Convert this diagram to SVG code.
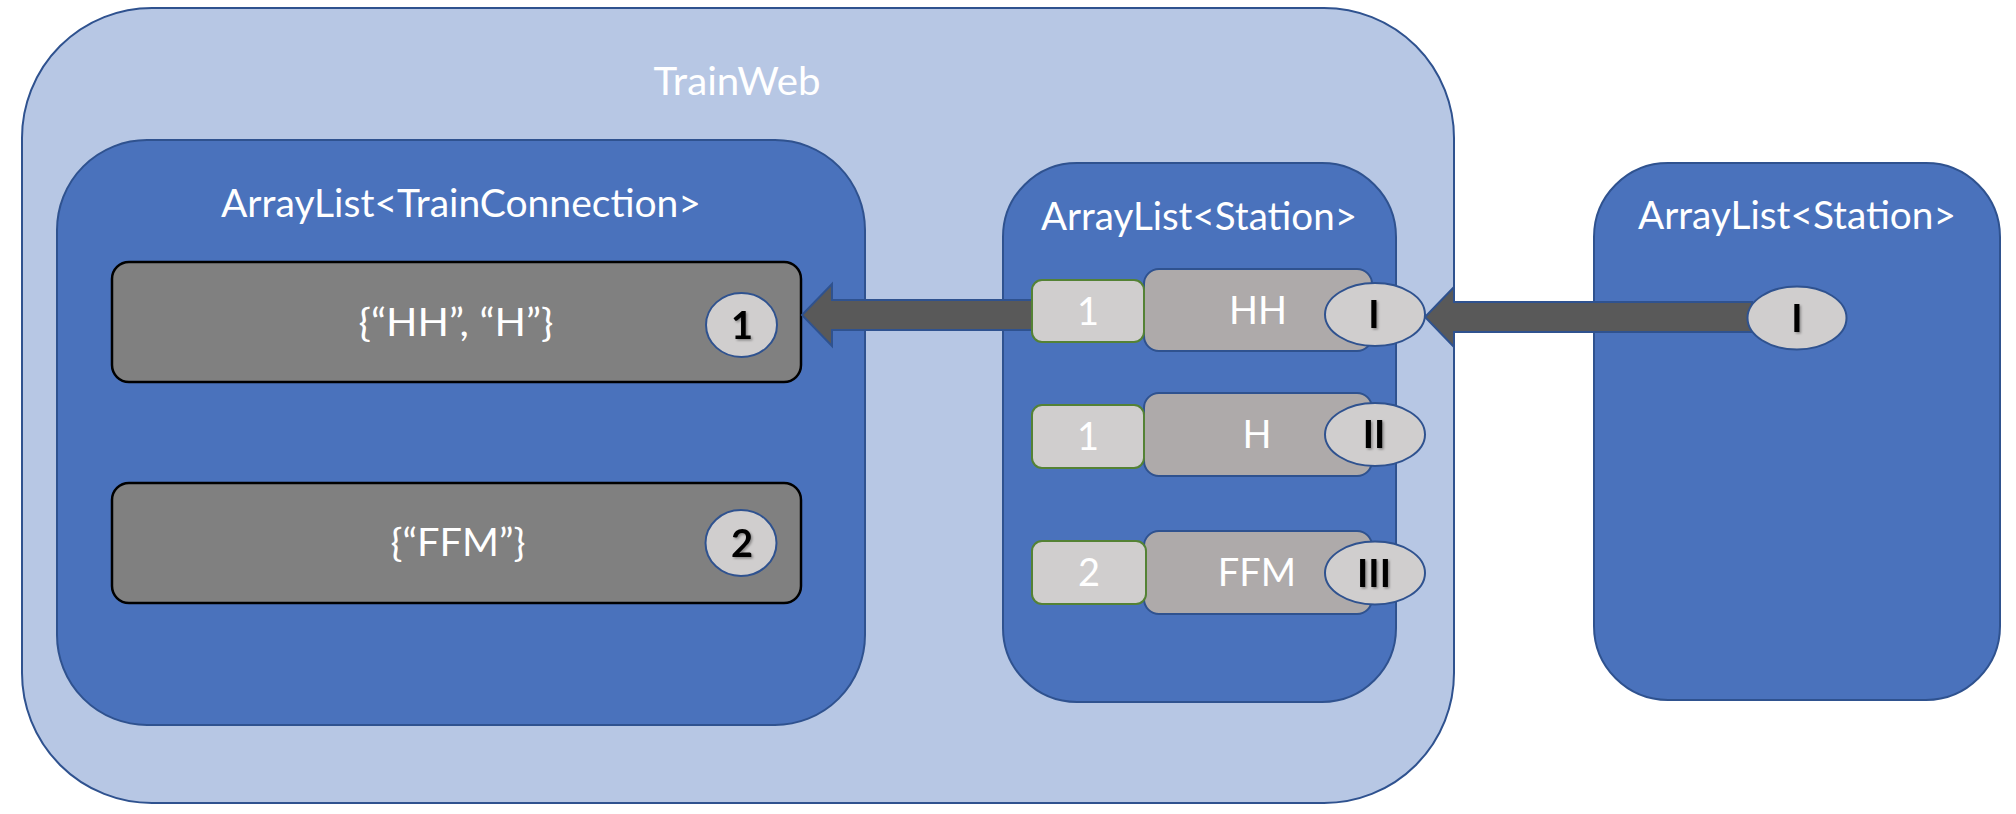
<svg xmlns="http://www.w3.org/2000/svg" width="2016" height="814" viewBox="0 0 2016 814">
<defs>
<style>
.outer{fill:#b7c7e4;stroke:#2f528f;stroke-width:2}
.list{fill:#4a72bc;stroke:#2f528f;stroke-width:2}
.conn{fill:#808080;stroke:#000;stroke-width:2.5}
.idx{fill:#d0cece;stroke:#2f528f;stroke-width:2}
.num{fill:#d0cece;stroke:#548235;stroke-width:2}
.stn{fill:#aeaaaa;stroke:#2f528f;stroke-width:2}
.arrow{fill:#595959;stroke:#2f528f;stroke-width:2;stroke-linejoin:miter}
text{font-family:Lato,"Open Sans","Liberation Sans",sans-serif;text-anchor:middle}
.wt{fill:#fff;font-size:38px}
.bk{fill:#000;font-size:38px;font-weight:bold;filter:url(#sh)}
</style>
<filter id="sh" x="-50%" y="-50%" width="200%" height="200%">
<feDropShadow dx="1.5" dy="1.5" stdDeviation="1.2" flood-color="#000" flood-opacity="0.35"/>
</filter>
</defs>
<rect width="2016" height="814" fill="#fff"/>
<g id="trainweb">
<rect class="outer" x="22" y="8" width="1432" height="795" rx="130" ry="130"/>
<text class="wt" x="737" y="95" textLength="167" lengthAdjust="spacingAndGlyphs">TrainWeb</text>
</g>
<g id="trainconnections">
<rect class="list" x="57" y="140" width="808" height="585" rx="90" ry="90"/>
<text class="wt" x="461" y="217" textLength="480" lengthAdjust="spacingAndGlyphs">ArrayList&lt;TrainConnection&gt;</text>
</g>
<g id="stations-inner">
<rect class="list" x="1003" y="163" width="393" height="539" rx="74" ry="74"/>
<text class="wt" x="1199" y="230" textLength="316" lengthAdjust="spacingAndGlyphs">ArrayList&lt;Station&gt;</text>
</g>
<g id="stations-outer">
<rect class="list" x="1594" y="163" width="406" height="537" rx="74" ry="74"/>
<text class="wt" x="1797" y="229" textLength="318" lengthAdjust="spacingAndGlyphs">ArrayList&lt;Station&gt;</text>
</g>
<g id="conn1">
<rect class="conn" x="112" y="262" width="689" height="120" rx="17" ry="17"/>
<text class="wt" x="456" y="336" textLength="195" lengthAdjust="spacingAndGlyphs">{“HH”, “H”}</text>
<ellipse class="idx" cx="741.5" cy="325" rx="35.5" ry="32"/>
<text class="bk" x="742" y="339">1</text>
</g>
<g id="conn2">
<rect class="conn" x="112" y="483" width="689" height="120" rx="17" ry="17"/>
<text class="wt" x="458" y="556" textLength="135" lengthAdjust="spacingAndGlyphs">{“FFM”}</text>
<ellipse class="idx" cx="741" cy="543" rx="35.5" ry="33"/>
<text class="bk" x="742" y="557">2</text>
</g>
<g id="connectors">
<polygon class="arrow" points="802,315 832,284 832,300 1036,300 1036,330 832,330 832,346"/>
<polygon class="arrow" points="1425,317 1454,287 1454,302 1752,302 1752,332 1454,332 1454,347"/>
</g>
<g id="station-hh">
<rect class="stn" x="1144" y="269" width="228" height="82" rx="15" ry="15"/>
<rect class="num" x="1032" y="280" width="112" height="62" rx="10" ry="10"/>
<text class="wt" x="1088" y="325">1</text>
<text class="wt" x="1258" y="324">HH</text>
<ellipse class="idx" cx="1375" cy="314.5" rx="50" ry="31.5"/>
<text class="bk" x="1374" y="328">I</text>
</g>
<g id="station-h">
<rect class="stn" x="1144" y="393" width="228" height="83" rx="15" ry="15"/>
<rect class="num" x="1032" y="405" width="112" height="63" rx="10" ry="10"/>
<text class="wt" x="1088" y="450">1</text>
<text class="wt" x="1257" y="448">H</text>
<ellipse class="idx" cx="1375" cy="434.5" rx="50" ry="31.5"/>
<text class="bk" x="1374" y="448">II</text>
</g>
<g id="station-ffm">
<rect class="stn" x="1144" y="531" width="228" height="83" rx="15" ry="15"/>
<rect class="num" x="1032" y="541" width="114" height="63" rx="10" ry="10"/>
<text class="wt" x="1089" y="586">2</text>
<text class="wt" x="1257" y="586">FFM</text>
<ellipse class="idx" cx="1375" cy="573" rx="50" ry="31.5"/>
<text class="bk" x="1374" y="587">III</text>
</g>
<g id="station-ref">
<ellipse class="idx" cx="1797" cy="318" rx="49.5" ry="31.5"/>
<text class="bk" x="1797" y="332">I</text>
</g>
</svg>
